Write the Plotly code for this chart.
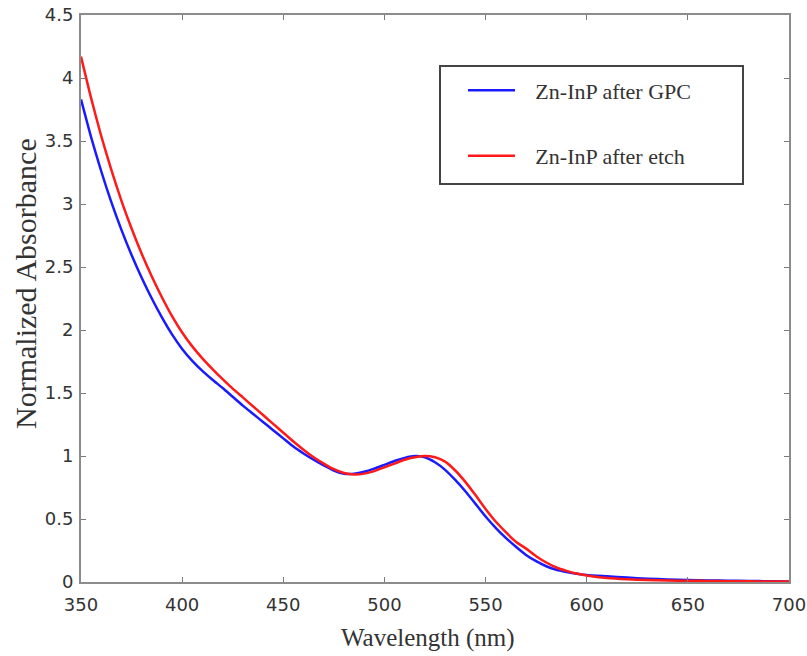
import plotly.graph_objects as go

wavelength = [350, 355, 360, 365, 370, 375, 380, 385, 390, 395, 400, 405, 410, 415, 420,
              425, 430, 435, 440, 445, 450, 455, 460, 465, 470, 475, 480, 485, 490, 495,
              500, 505, 510, 515, 520, 525, 530, 535, 540, 545, 550, 555, 560, 565, 570,
              575, 580, 585, 590, 595, 600, 610, 620, 630, 640, 650, 660, 670, 680, 690, 700]

abs_gpc = [3.83, 3.53, 3.26, 3.015, 2.795, 2.595, 2.415, 2.25, 2.10, 1.965, 1.85, 1.755, 1.675, 1.605, 1.54,
           1.47, 1.40, 1.335, 1.27, 1.205, 1.14, 1.075, 1.02, 0.97, 0.925, 0.885, 0.86, 0.86, 0.875, 0.90,
           0.93, 0.96, 0.985, 1.00, 0.99, 0.95, 0.89, 0.81, 0.72, 0.62, 0.52, 0.43, 0.35, 0.28, 0.215,
           0.165, 0.125, 0.097, 0.08, 0.066, 0.056, 0.045, 0.035, 0.026, 0.02, 0.015, 0.012, 0.01, 0.008, 0.006, 0.004]

abs_etch = [4.17, 3.84, 3.54, 3.27, 3.025, 2.805, 2.605, 2.425, 2.26, 2.11, 1.98, 1.87, 1.775, 1.69, 1.61,
            1.535, 1.465, 1.395, 1.325, 1.255, 1.185, 1.115, 1.05, 0.99, 0.94, 0.895, 0.865, 0.853, 0.86, 0.88,
            0.91, 0.94, 0.97, 0.99, 1.00, 0.99, 0.955, 0.885, 0.795, 0.69, 0.58, 0.48, 0.395, 0.32, 0.265,
            0.205, 0.155, 0.115, 0.088, 0.067, 0.052, 0.032, 0.022, 0.016, 0.012, 0.01, 0.008, 0.006, 0.005, 0.004, 0.003]

x_ticks = [350, 400, 450, 500, 550, 600, 650, 700]
y_ticks = [0, 0.5, 1, 1.5, 2, 2.5, 3, 3.5, 4, 4.5]
y_tick_text = ["0", "0.5", "1", "1.5", "2", "2.5", "3", "3.5", "4", "4.5"]

x_title = "Wavelength (nm)"
y_title = "Normalized Absorbance"

fig = go.Figure()
fig.add_trace(go.Scatter(x=wavelength, y=abs_gpc, mode="lines", name="\u2002\u2009Zn-InP after GPC",
                         line=dict(color="#1a1aff", width=2.5, shape="spline", smoothing=0.6),
                         legendgroup="a"))
fig.add_trace(go.Scatter(x=wavelength, y=abs_etch, mode="lines", name="\u2002\u2009Zn-InP after etch",
                         line=dict(color="#ff1a1a", width=2.5, shape="spline", smoothing=0.6),
                         legendgroup="b"))

axis_common = dict(showline=True, linecolor="#8c8c8c", linewidth=2, mirror="ticks",
                   ticks="inside", ticklen=5, tickcolor="#7a7a7a", tickwidth=1,
                   showgrid=False, zeroline=False, automargin=False, ticklabeloverflow="allow",
                   tickfont=dict(family="DejaVu Sans", size=18, color="#333333"))

W, H = 807, 656
L, R, T, B = 81, 18, 15, 74
pw, ph = W - L - R, H - T - B


def px_x(x):
    return (x - L) / pw


def px_y(y):
    return (H - B - y) / ph


fig.update_layout(
    width=W, height=H,
    margin=dict(l=L, r=R, t=T, b=B),
    plot_bgcolor="white", paper_bgcolor="white",
    xaxis=dict(range=[350, 700], tickvals=x_ticks, ticklabelstandoff=5, **axis_common),
    yaxis=dict(range=[0, 4.5], tickvals=y_ticks, ticktext=y_tick_text, ticklabelstandoff=2,
               **axis_common),
    legend=dict(x=0.5395, y=0.904, xanchor="left", yanchor="top",
                bgcolor="rgba(0,0,0,0)", borderwidth=0, tracegroupgap=34,
                itemwidth=47,
                font=dict(family="Liberation Serif", size=22, color="#333333")),
    shapes=[dict(type="rect", xref="paper", yref="paper",
                 x0=px_x(440), x1=px_x(743), y0=px_y(184), y1=px_y(66),
                 line=dict(color="#444444", width=2), fillcolor="rgba(0,0,0,0)")],
    annotations=[
        dict(text=x_title, xref="paper", yref="paper", x=px_x(428), y=px_y(638),
             xanchor="center", yanchor="middle", showarrow=False,
             font=dict(family="Liberation Serif", size=25, color="#333333")),
        dict(text=y_title, xref="paper", yref="paper", x=px_x(25), y=px_y(284),
             xanchor="center", yanchor="middle", showarrow=False, textangle=-90,
             font=dict(family="Liberation Serif", size=30, color="#333333")),
    ],
)

fig.write_html("out.html", config={"displayModeBar": False},
               post_script="document.body.style.margin='0px';")
